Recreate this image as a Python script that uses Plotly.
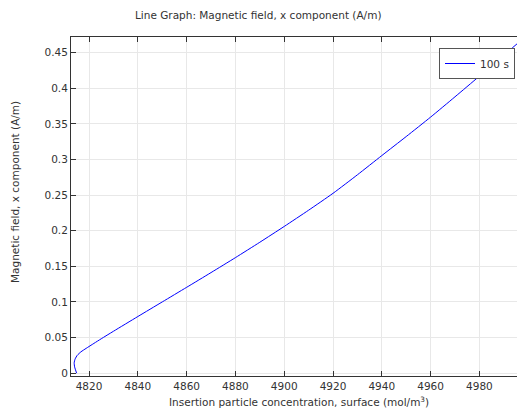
import plotly.graph_objects as go

conc = [4814.9, 4814.1, 4813.9, 4814.3, 4815.2, 4816.7, 4818.8, 4822.0, 4825.0, 4830.0,
        4840.0, 4850.0, 4860.0, 4870.0, 4880.0, 4890.0, 4900.0, 4910.0, 4920.0,
        4930.0, 4940.0, 4950.0, 4960.0, 4970.0, 4980.0, 4997.0]
hx = [0.0, 0.0085, 0.0145, 0.0200, 0.0252, 0.0300, 0.0348, 0.0418, 0.0483, 0.0588,
      0.0795, 0.1000, 0.1205, 0.1412, 0.1622, 0.1838, 0.2060, 0.2288, 0.2525,
      0.2785, 0.3055, 0.3322, 0.3595, 0.3880, 0.4170, 0.4670]
series_name = "100 s"
x_ticks = [4820, 4840, 4860, 4880, 4900, 4920, 4940, 4960, 4980]
y_ticks = [0, 0.05, 0.1, 0.15, 0.2, 0.25, 0.3, 0.35, 0.4, 0.45]
y_tick_text = ["0", "0.05", "0.1", "0.15", "0.2", "0.25", "0.3", "0.35", "0.4", "0.45"]

# page body has an 8px margin: work in window pixels, shift by OFF
OFF = 8
W, H = 525 - OFF, 411 - OFF
PL, PR, PT, PB = 71, 525, 37, 376  # plot box in window pixels
L, T = PL - OFF, PT - OFF
R = (W + OFF) - PR
B = (H + OFF) - PB
pw, ph = PR - PL, PB - PT


def px_x(x):
    return (x - PL) / pw


def px_y(y):
    return (PB - y) / ph


FS = 10.5
fnt = dict(family="DejaVu Sans", size=FS, color="#333333")

fig = go.Figure()
fig.add_trace(go.Scatter(x=conc, y=hx, mode="lines", name=series_name,
                         line=dict(color="#0000ff", width=1, shape="spline", smoothing=0.6)))

axis_common = dict(showgrid=True, gridcolor="#e8e8e8", gridwidth=1, zeroline=False,
                   showline=True, linecolor="#333333", linewidth=1, mirror="ticks",
                   ticks="inside", ticklen=5, tickcolor="#333333", tickfont=fnt)

fig.update_layout(
    width=W, height=H,
    margin=dict(l=L, r=R, t=T, b=B),
    paper_bgcolor="white", plot_bgcolor="white",
    font=fnt,
    showlegend=True,
    legend=dict(x=px_x(515), y=px_y(48), xanchor="right", yanchor="top", bgcolor="white",
                bordercolor="#555555", borderwidth=1, itemwidth=30, font=fnt),
    xaxis=dict(range=[4812.6, 4998.7], tickvals=x_ticks, **axis_common),
    yaxis=dict(range=[-0.004, 0.472], tickvals=y_ticks, ticktext=y_tick_text, **axis_common),
    annotations=[
        dict(text="Line Graph: Magnetic field, x component (A/m)", xref="paper", yref="paper",
             x=px_x(258), y=px_y(15), xanchor="center", yanchor="middle",
             showarrow=False, font=fnt),
        dict(text="Insertion particle concentration, surface (mol/m<sup>3</sup>)", xref="paper", yref="paper",
             x=px_x(299), y=px_y(401), xanchor="center", yanchor="middle",
             showarrow=False, font=fnt),
        dict(text="Magnetic field, x component (A/m)", xref="paper", yref="paper", textangle=-90,
             x=px_x(15), y=px_y(192), xanchor="center", yanchor="middle",
             showarrow=False, font=fnt),
    ],
)

fig.write_html("out.html")
